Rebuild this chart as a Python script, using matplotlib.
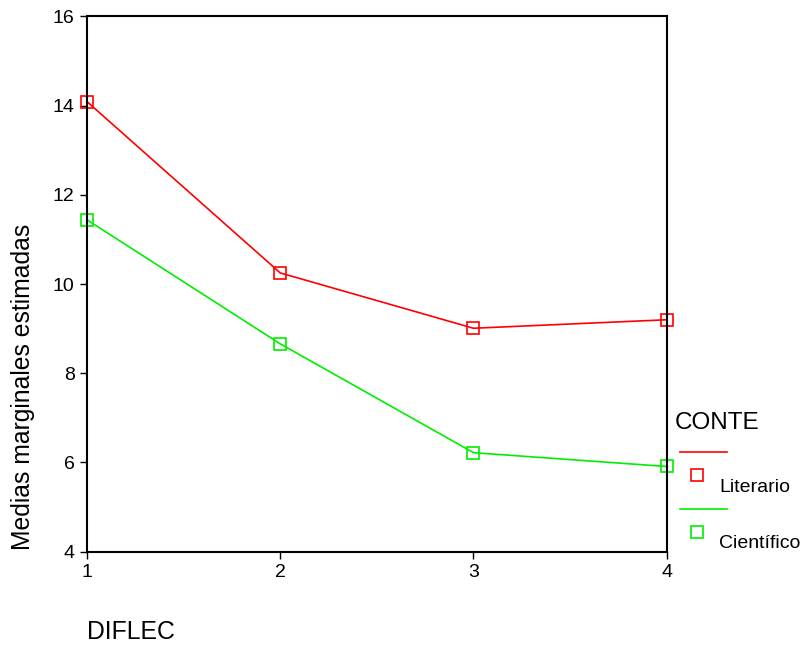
import matplotlib.pyplot as plt
from matplotlib.lines import Line2D

plt.rcParams['font.family'] = ['Liberation Sans', 'DejaVu Sans']

diflec = [1, 2, 3, 4]
literario = [14.09, 10.25, 9.01, 9.2]
cientifico = [11.44, 8.66, 6.22, 5.91]
yticks = [4, 6, 8, 10, 12, 14, 16]

fig = plt.figure(figsize=(8.02, 6.46), dpi=100)
ax = fig.add_axes([0.1085, 0.146, 0.7228, 0.8285])

mk = dict(marker='s', markersize=8, markerfacecolor='none', markeredgewidth=1.2,
          linewidth=1.2, clip_on=False)
ax.plot(diflec, literario, color='#ff0000', **mk)
ax.plot(diflec, cientifico, color='#00ee00', **mk)

ax.set_xlim(1, 4)
ax.set_ylim(4, 16)
ax.set_xticks(diflec)
ax.set_yticks(yticks)
for s in ax.spines.values():
    s.set_linewidth(1.5)
ax.tick_params(direction='out', length=5, width=1, labelsize=14, pad=4)

fig.text(23 / 802, 1 - 387 / 646, 'Medias marginales estimadas', rotation=90,
         ha='center', va='center', fontsize=17.8)
fig.text(87 / 802, 1 - 632 / 646, 'DIFLEC', ha='left', va='center', fontsize=17.8)

# legend built by hand
W, H = 802, 646
fig.text(675 / W, 1 - 423 / H, 'CONTE', ha='left', va='center', fontsize=17.5)
entries = [('Literario', '#ff0000', 452), ('Científico', '#00ee00', 509)]
for name, c, y in entries:
    fig.add_artist(Line2D([680 / W, 727 / W], [1 - y / H, 1 - y / H], color=c,
                          linewidth=1.2, transform=fig.transFigure))
    fig.add_artist(Line2D([697 / W], [1 - (y + 23) / H], color=c, marker='s',
                          markersize=8, markerfacecolor='none', markeredgewidth=1.2,
                          transform=fig.transFigure))
    fig.text(719 / W, 1 - (y + 35) / H, name, ha='left', va='center', fontsize=14)

fig.savefig('out.png', dpi=100)
